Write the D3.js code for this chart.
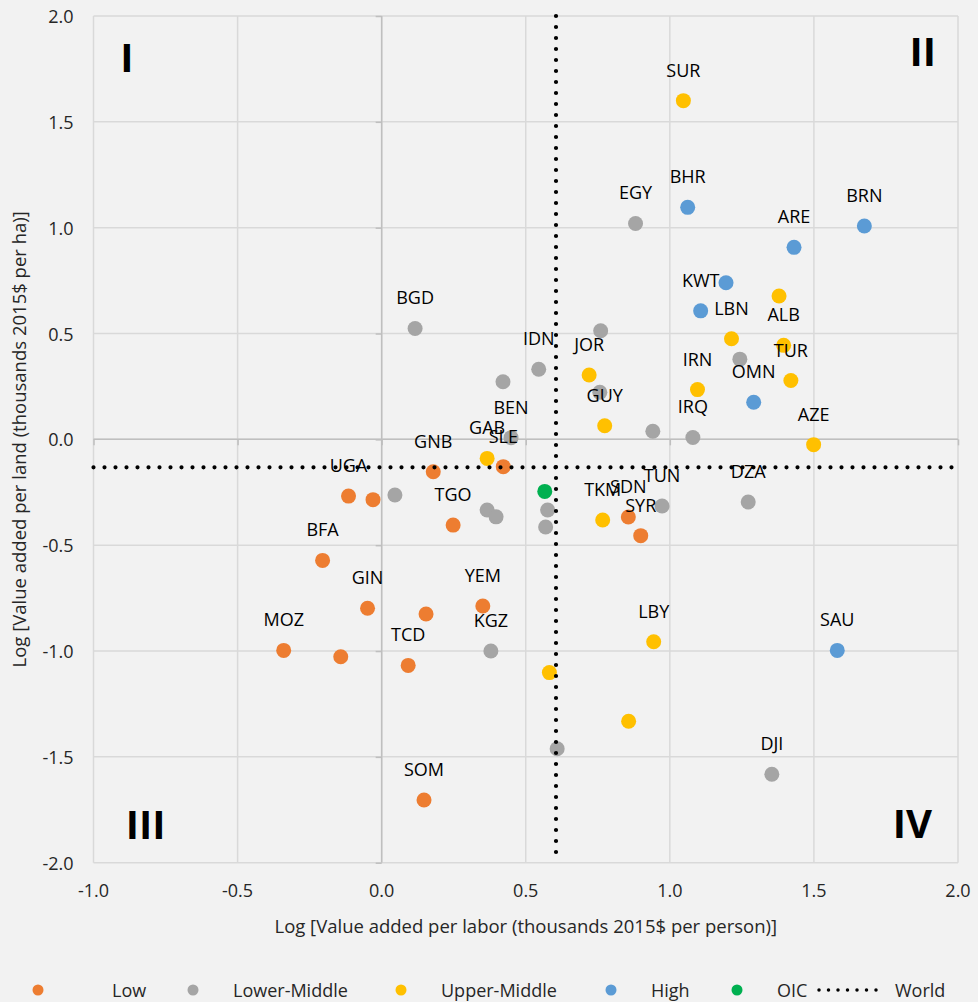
<!DOCTYPE html>
<html><head><meta charset="utf-8">
<script src="https://cdn.jsdelivr.net/npm/d3@7"></script>
<style>
html,body{margin:0;padding:0;background:#f2f2f2;}
svg{display:block;font-family:"Open Sans",sans-serif;}
</style></head>
<body>
<svg id="chart" width="978" height="1002"></svg>
<script>
// ---- data ----
const groups = ["Low","Lower-Middle","Upper-Middle","High","OIC"];
const groupColors = ["#ED7D31","#A5A5A5","#FFC000","#5B9BD5","#00B050"];

const lowLabels = ["GNB","SLE","UGA","","TGO","BFA","GIN","YEM","","MOZ","","TCD","SOM","SDN","SYR"];
const lowX = [0.179,0.422,-0.115,-0.030,0.248,-0.205,-0.049,0.351,0.154,-0.340,-0.142,0.092,0.147,0.856,0.899];
const lowY = [-0.153,-0.129,-0.268,-0.285,-0.405,-0.572,-0.798,-0.787,-0.825,-0.997,-1.027,-1.068,-1.704,-0.367,-0.455];

const lmLabels = ["EGY","BGD","","IDN","","","BEN","","","IRQ","DZA","TUN","","","","","","KGZ","","DJI"];
const lmX = [0.881,0.116,0.760,0.545,0.421,0.757,0.449,1.243,0.941,1.080,1.272,0.973,0.046,0.366,0.397,0.576,0.569,0.379,0.609,1.354];
const lmY = [1.020,0.524,0.513,0.331,0.272,0.222,0.008,0.379,0.038,0.009,-0.296,-0.315,-0.263,-0.334,-0.366,-0.334,-0.414,-1.000,-1.462,-1.582];

const umLabels = ["SUR","","LBN","ALB","TUR","IRN","JOR","GUY","AZE","GAB","TKM","LBY","",""];
const umX = [1.047,1.379,1.214,1.395,1.420,1.096,0.720,0.774,1.499,0.366,0.767,0.944,0.582,0.857];
const umY = [1.600,0.677,0.475,0.444,0.278,0.235,0.304,0.064,-0.025,-0.090,-0.381,-0.956,-1.102,-1.332];

const hiLabels = ["BHR","ARE","BRN","","KWT","OMN","SAU"];
const hiX = [1.062,1.431,1.675,1.195,1.107,1.291,1.581];
const hiY = [1.096,0.907,1.008,0.740,0.607,0.175,-0.997];

const oicLabels = [""];
const oicX = [0.566];
const oicY = [-0.246];

const worldX = 0.605;
const worldY = -0.132;

const xTicks = [-1.0,-0.5,0.0,0.5,1.0,1.5,2.0];
const yTicks = [-2.0,-1.5,-1.0,-0.5,0.0,0.5,1.0,1.5,2.0];
const quadrantLabels = ["I","II","III","IV"];
const quadrantX = [-0.884,1.878,-0.819,1.842];
const quadrantY = [1.811,1.839,-1.814,-1.809];

const xTitle = "Log [Value added per labor (thousands 2015$ per person)]";
const yTitle = "Log [Value added per land (thousands 2015$ per ha)]";

// ---- build ----
const series = [
  {labels:lowLabels,xs:lowX,ys:lowY},
  {labels:lmLabels,xs:lmX,ys:lmY},
  {labels:umLabels,xs:umX,ys:umY},
  {labels:hiLabels,xs:hiX,ys:hiY},
  {labels:oicLabels,xs:oicX,ys:oicY}
];
const points = [];
series.forEach((s,gi)=>s.xs.forEach((x,i)=>points.push({g:gi,label:s.labels[i],x:x,y:s.ys[i]})));

const fmt = d => d.toFixed(1);

const svg = d3.select("#chart");
const L=93.5, R=958, T=16, B=862.7;
const x = d3.scaleLinear().domain([-1,2]).range([L,R]);
const y = d3.scaleLinear().domain([-2,2]).range([B,T]);

svg.append("rect").attr("width",978).attr("height",1002).attr("fill","#f2f2f2");

// gridlines
const grid = svg.append("g");
grid.selectAll(".vg").data(xTicks).join("line")
  .attr("x1",d=>x(d)).attr("x2",d=>x(d)).attr("y1",T).attr("y2",B)
  .attr("stroke","#d9d9d9").attr("stroke-width",1.5);
grid.selectAll(".hg").data(yTicks).join("line")
  .attr("x1",L).attr("x2",R).attr("y1",d=>y(d)).attr("y2",d=>y(d))
  .attr("stroke","#d9d9d9").attr("stroke-width",1.5);

// axes crossing at zero
const yAxis = d3.axisLeft(y).tickValues(yTicks).tickSize(6).tickFormat("");
const gy = svg.append("g").attr("transform",`translate(${x(0)},0)`).call(yAxis);
gy.selectAll("path,line").attr("stroke","#bfbfbf").attr("stroke-width",1.5);
const xAxis = d3.axisBottom(x).tickValues(xTicks).tickSize(6).tickFormat("");
const gx = svg.append("g").attr("transform",`translate(0,${y(0)})`).call(xAxis);
gx.selectAll("path,line").attr("stroke","#bfbfbf").attr("stroke-width",1.5);
gx.select("path").attr("d",`M${L},0H${R}`);
gy.select("path").attr("d",`M0,${T}V${B}`);

// tick labels (low position)
svg.append("g").selectAll("text").data(xTicks).join("text")
  .attr("x",d=>x(d)).attr("y",B+27).attr("text-anchor","middle")
  .attr("dominant-baseline","central")
  .attr("font-size",18).attr("fill","#262626").text(fmt);
svg.append("g").selectAll("text").data(yTicks).join("text")
  .attr("x",L-20).attr("y",d=>y(d)).attr("text-anchor","end")
  .attr("dominant-baseline","central")
  .attr("font-size",18).attr("fill","#262626").text(fmt);

// axis titles
svg.append("text").attr("x",(L+R)/2).attr("y",925).attr("text-anchor","middle")
  .attr("dominant-baseline","central").attr("font-size",18.5).attr("fill","#262626").text(xTitle);
svg.append("text").attr("transform",`translate(18,${(T+B)/2}) rotate(-90)`).attr("text-anchor","middle")
  .attr("dominant-baseline","central").attr("font-size",18.5).attr("fill","#262626").text(yTitle);

// quadrant labels
svg.append("g").selectAll("text").data(quadrantLabels).join("text")
  .attr("x",(d,i)=>x(quadrantX[i])).attr("y",(d,i)=>y(quadrantY[i]))
  .attr("text-anchor","middle").attr("dominant-baseline","central")
  .attr("font-size",40).attr("font-weight","bold").attr("fill","#000").text(d=>d);

// points
svg.append("g").selectAll("circle").data(points).join("circle")
  .attr("cx",d=>x(d.x)).attr("cy",d=>y(d.y)).attr("r",7.5)
  .attr("fill",d=>groupColors[d.g]);

// point labels
svg.append("g").selectAll("text").data(points.filter(d=>d.label)).join("text")
  .attr("x",d=>x(d.x)).attr("y",d=>y(d.y)-31)
  .attr("text-anchor","middle").attr("dominant-baseline","central")
  .attr("font-size",18).attr("fill","#000").text(d=>d.label);

// world lines
const dot = {stroke:"#000", w:4.2, dash:"0 11"};
svg.append("line").attr("x1",x(worldX)).attr("x2",x(worldX)).attr("y1",T).attr("y2",B)
  .attr("stroke",dot.stroke).attr("stroke-width",dot.w).attr("stroke-dasharray",dot.dash).attr("stroke-linecap","round");
svg.append("line").attr("x1",L).attr("x2",R).attr("y1",y(worldY)).attr("y2",y(worldY))
  .attr("stroke",dot.stroke).attr("stroke-width",dot.w).attr("stroke-dasharray",dot.dash).attr("stroke-linecap","round");

// legend
const legendItems = groups.map((g,i)=>({name:g,color:groupColors[i],type:"dot"})).concat([{name:"World",type:"line"}]);
const legendX = [38,193,401,611,737,817];
const lg = svg.append("g");
legendItems.forEach((it,i)=>{
  const gx0 = legendX[i];
  if(it.type==="dot"){
    lg.append("circle").attr("cx",gx0).attr("cy",990).attr("r",5.5).attr("fill",it.color);
    lg.append("text").attr("x",gx0+(i===0?74:40)).attr("y",990).attr("dominant-baseline","central")
      .attr("font-size",18).attr("fill","#262626").text(it.name);
  } else {
    lg.append("line").attr("x1",gx0+2).attr("x2",gx0+68).attr("y1",990).attr("y2",990)
      .attr("stroke","#000").attr("stroke-width",3.5).attr("stroke-dasharray","0 9.5").attr("stroke-linecap","round");
    lg.append("text").attr("x",gx0+78).attr("y",990).attr("dominant-baseline","central")
      .attr("font-size",18).attr("fill","#262626").text(it.name);
  }
});
</script>
</body></html>
